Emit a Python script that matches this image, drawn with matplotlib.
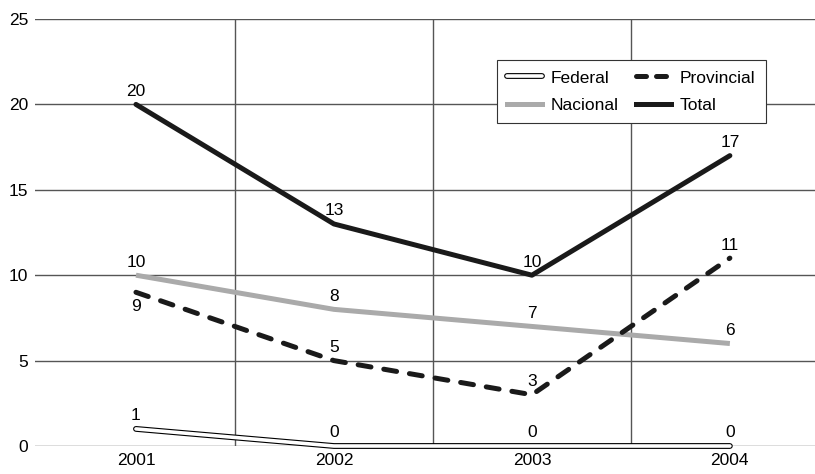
import matplotlib
matplotlib.use("Agg")
import matplotlib.pyplot as plt
from matplotlib.lines import Line2D
from matplotlib.legend_handler import HandlerTuple

plt.rcParams['font.family'] = ['Liberation Sans Narrow', 'Liberation Sans', 'DejaVu Sans']

years = ["2001", "2002", "2003", "2004"]
federal = [1, 0, 0, 0]
nacional = [10, 8, 7, 6]
provincial = [9, 5, 3, 11]
total = [20, 13, 10, 17]
y_ticks = [0, 5, 10, 15, 20, 25]

x = list(range(len(years)))

fig = plt.figure(figsize=(8.15, 4.74), dpi=100)
ax = fig.add_axes([35 / 815, 28 / 474, 1 - 35 / 815, (446 - 19) / 474])

grid_col = "#555555"
for yv in y_ticks:
    ax.axhline(yv, color=grid_col, lw=1.0, zorder=1)
for xv in [0.5, 1.5, 2.5]:
    ax.plot([xv, xv], [0, 25], color=grid_col, lw=1.0, zorder=1)

# federal: white line with black outline
ax.plot(x, federal, color="black", lw=4.2, solid_capstyle="round", zorder=3, clip_on=False)
ax.plot(x, federal, color="white", lw=2.6, solid_capstyle="round", zorder=3.1, clip_on=False)
ax.plot(x, nacional, color="#aaaaaa", lw=3.6, solid_capstyle="butt", zorder=3)
ax.plot(x, provincial, color="#1a1a1a", lw=3.6, dashes=(2.6, 2.6),
        dash_capstyle="round", zorder=3)
ax.plot(x, total, color="#1a1a1a", lw=3.6, solid_capstyle="round", zorder=4)

fs = 12.5
for i in x:
    ax.annotate(str(total[i]), (i, total[i]), xytext=(0, 4), textcoords="offset points",
                ha="center", va="bottom", fontsize=fs)
    ax.annotate(str(nacional[i]), (i, nacional[i]), xytext=(0, 4), textcoords="offset points",
                ha="center", va="bottom", fontsize=fs)
    ax.annotate(str(federal[i]), (i, federal[i]), xytext=(0, 4), textcoords="offset points",
                ha="center", va="bottom", fontsize=fs)
    if i == 0:
        ax.annotate(str(provincial[i]), (i, provincial[i]), xytext=(0, -5),
                    textcoords="offset points", ha="center", va="top", fontsize=fs)
    else:
        ax.annotate(str(provincial[i]), (i, provincial[i]), xytext=(0, 4),
                    textcoords="offset points", ha="center", va="bottom", fontsize=fs)

ax.set_xlim(-0.51, 3.43)
ax.set_ylim(0, 25)
ax.set_xticks(x)
ax.set_xticklabels(years, fontsize=fs)
ax.set_yticks(y_ticks)
ax.set_yticklabels([str(v) for v in y_ticks], fontsize=fs)
ax.tick_params(length=0, pad=5)
for s in ax.spines.values():
    s.set_visible(False)

h_fed = (Line2D([], [], color="black", lw=4.2, solid_capstyle="round"),
         Line2D([], [], color="white", lw=2.6, solid_capstyle="round"))
h_nac = Line2D([], [], color="#aaaaaa", lw=3.6)
h_prov = Line2D([], [], color="#1a1a1a", lw=3.6, dashes=(2.0, 2.0), dash_capstyle="round")
h_tot = Line2D([], [], color="#1a1a1a", lw=3.6)
leg = ax.legend([h_fed, h_nac, h_prov, h_tot], ["Federal", "Nacional", "Provincial", "Total"],
                ncol=2, loc="upper left", bbox_to_anchor=((497 - 35) / 780, (446 - 60) / 427),
                borderaxespad=0,
                frameon=True, fancybox=False, edgecolor="#333333", framealpha=1,
                fontsize=fs, handlelength=2.0, columnspacing=1.0, handletextpad=0.5,
                borderpad=0.6, labelspacing=0.7,
                handler_map={tuple: HandlerTuple(ndivide=1, pad=0)})
leg.get_frame().set_linewidth(0.8)
leg.set_zorder(5)

fig.savefig("out.png", dpi=100)
